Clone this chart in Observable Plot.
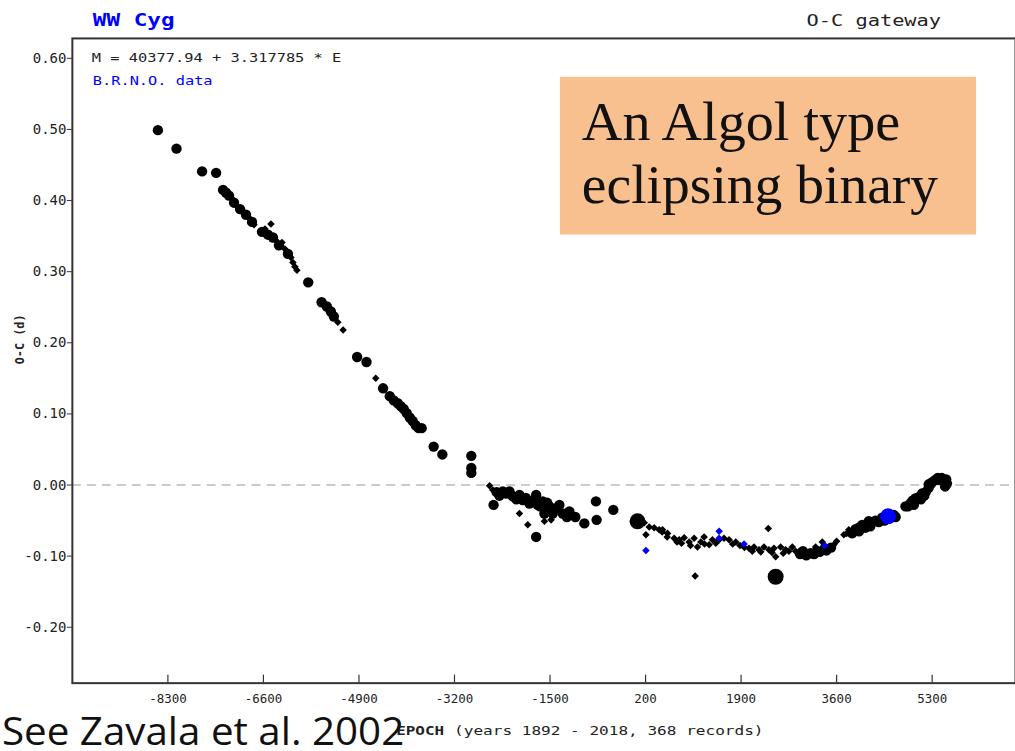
<!DOCTYPE html>
<html><head><meta charset="utf-8">
<script src="https://cdn.jsdelivr.net/npm/d3@7"></script>
<script src="https://cdn.jsdelivr.net/npm/@observablehq/plot@0.6"></script>
<style>
body{margin:0;background:#fff;}
#wrap{position:relative;width:1015px;height:751px;overflow:hidden;background:#fff;}
</style></head><body><div id="wrap"></div>
<script>
// Tick values
const xTicks = [-8300, -6600, -4900, -3200, -1500, 200, 1900, 3600, 5300];
const yTicks = [-0.2, -0.1, 0, 0.1, 0.2, 0.3, 0.4, 0.5, 0.6];

// Normal black circles: epoch, O-C
const circleEpoch = [-8478,-8147,-7691,-7442,-7318,-7265,-7212,-7123,-7016,-6910,-6803,-6626,-6519,-6430,-6324,-6164,-5803,-5565,-5471,-5400,-5347,-4933,-4766,-4471,-4352,-4281,-4210,-4157,-4104,-4050,-3997,-3944,-3891,-3837,-3784,-3571,-3416,-2901,-2901,-2901,
  -2505,-2450,-2400,-2340,-2280,-2221,-2163,-2100,-2044,-1985,-1930,-1866,-1800,-1747,-1719,-1680,-1630,-1600,-1571,-1550,-1511,-1452,-1400,-1333,-1274,-1200,-1156,-1050,-1747,-889,-683,-671,-374,
  2950,3000,3060,3137,3200,3250,3300,3380,3420,3500,
  3876,3936,3995,4000,4054,4113,4172,4200,4291,4350,4409,4450,4560,4617,4650,
  4825,4870,4912,4950,4974,5000,5060,5100,5119,5160,5184,5238,5238,5280,5300,5356,5400,5430,5470,5504,5550,5563,5530];
const circleOC = [0.499,0.473,0.441,0.439,0.415,0.411,0.407,0.397,0.388,0.380,0.370,0.356,0.352,0.348,0.337,0.325,0.285,0.257,0.251,0.244,0.237,0.180,0.173,0.136,0.125,0.119,0.115,0.111,0.107,0.101,0.095,0.090,0.084,0.080,0.080,0.054,0.043,0.041,0.024,0.017,
  -0.028,-0.010,-0.015,-0.009,-0.012,-0.009,-0.016,-0.020,-0.014,-0.021,-0.018,-0.026,-0.022,-0.014,-0.028,-0.030,-0.023,-0.040,-0.035,-0.025,-0.030,-0.040,-0.033,-0.028,-0.040,-0.045,-0.037,-0.045,-0.073,-0.054,-0.023,-0.049,-0.035,
  -0.097,-0.093,-0.099,-0.096,-0.097,-0.093,-0.094,-0.090,-0.092,-0.088,
  -0.068,-0.062,-0.060,-0.065,-0.056,-0.060,-0.051,-0.058,-0.050,-0.052,-0.046,-0.050,-0.046,-0.042,-0.045,
  -0.030,-0.030,-0.026,-0.022,-0.028,-0.019,-0.017,-0.020,-0.012,-0.015,-0.010,-0.004,0.001,0.002,0.004,0.007,0.010,0.007,0.010,0.006,0.008,0.002,-0.002];

// Large circles: epoch, O-C, colour (k = black, u = blue)
const bigEpoch = [57, 2515, 4516];
const bigOC = [-0.051, -0.129, -0.044];
const bigColor = ["k", "k", "u"];

// Diamonds: epoch, O-C, colour (k = black, u = blue)
const diamondEpoch = [-7158,-7070,-6963,-6857,-6768,-6572,-6466,-6377,-6270,-6217,-6111,-6075,-6040,-6004,-5276,-5182,-4601,-2576,-2518,-2429,-2044,-1896,-1600,-1481,-1126,-1038,176,266,354,443,496,585,207,502,591,709,760,798,840,887,976,1000,1064,1123,1183,1242,1250,1331,1390,1450,1509,1597,1686,1750,1805,1880,1960,2041,2100,2130,2219,2250,2308,2396,2450,2485,2515,2604,2650,2693,2750,2811,2870,2929,3225,3344,3462,3551,3600,2384,1082,3729,3780,3817,207,1509,1509,1953,3391];
const diamondOC = [0.403,0.393,0.383,0.376,0.366,0.360,0.367,0.344,0.341,0.332,0.320,0.313,0.307,0.302,0.229,0.218,0.150,-0.001,-0.007,-0.012,-0.040,-0.056,-0.051,-0.049,-0.042,-0.044,-0.053,-0.059,-0.060,-0.063,-0.066,-0.073,-0.070,-0.063,-0.068,-0.075,-0.080,-0.077,-0.082,-0.074,-0.080,-0.085,-0.075,-0.087,-0.080,-0.073,-0.083,-0.084,-0.077,-0.082,-0.077,-0.075,-0.077,-0.083,-0.080,-0.085,-0.088,-0.089,-0.093,-0.087,-0.091,-0.094,-0.087,-0.091,-0.095,-0.089,-0.101,-0.087,-0.096,-0.091,-0.093,-0.087,-0.093,-0.094,-0.087,-0.080,-0.089,-0.084,-0.079,-0.061,-0.128,-0.070,-0.068,-0.063,-0.092,-0.065,-0.075,-0.083,-0.085];
const diamondColor = diamondEpoch.map((_, i) => i >= diamondEpoch.length - 5 ? "u" : "k");

const palette = {k: "#000000", u: "#0000ff"};
const circles = circleEpoch.map((e, i) => ({epoch: e, oc: circleOC[i]}));
const bigs = bigEpoch.map((e, i) => ({epoch: e, oc: bigOC[i], color: palette[bigColor[i]]}));
const diamonds = diamondEpoch.map((e, i) => ({epoch: e, oc: diamondOC[i], color: palette[diamondColor[i]]}));

const chart = Plot.plot({
  width: 1017, height: 751,
  marginTop: 38, marginLeft: 72, marginRight: 0, marginBottom: 67,
  style: {fontFamily: "DejaVu Sans Mono", fontSize: "12px", color: "#222", background: "transparent"},
  x: {domain: [-10000, 6783], label: null},
  y: {domain: [-0.2786, 0.628], label: null},
  marks: [
    Plot.ruleY([0], {stroke: "#bbb", strokeWidth: 1.5, strokeDasharray: "9,6"}),
    Plot.axisY({ticks: yTicks, tickFormat: d => d.toFixed(2), tickSize: 5, tickPadding: 1, fontSize: 14, stroke: "#333", label: null}),
    Plot.axisX({ticks: xTicks, tickFormat: d => String(d), tickSize: 0, tickPadding: 11, fontSize: 12.5, label: null}),
    Plot.tickX(xTicks, {x: d => d, insetTop: 638, stroke: "#333", strokeWidth: 1.2}),
    Plot.dot(diamonds.filter(d => d.color === palette.k), {x: "epoch", y: "oc", r: 3.4, symbol: "diamond2", fill: "color"}),
    Plot.dot(circles, {x: "epoch", y: "oc", r: 5.2, fill: "#000"}),
    Plot.dot(diamonds.filter(d => d.color !== palette.k), {x: "epoch", y: "oc", r: 3.4, symbol: "diamond2", fill: "color"}),
    Plot.dot(bigs, {x: "epoch", y: "oc", r: 8, fill: "color"}),
    Plot.frame({stroke: "#333", strokeWidth: 2})
  ]
});
document.getElementById("wrap").appendChild(chart);

const svg = d3.select(chart);
function txt(x, y, s, o = {}) {
  const t = svg.append("text").attr("x", x).attr("y", y).text(s)
    .attr("font-family", o.family || "DejaVu Sans Mono")
    .attr("font-size", o.size || 13)
    .attr("font-weight", o.weight || "normal")
    .attr("fill", o.fill || "#222")
    .attr("text-anchor", o.anchor || "start");
  if (o.len) t.attr("textLength", o.len).attr("lengthAdjust", "spacingAndGlyphs");
  if (o.transform) t.attr("transform", o.transform);
  return t;
}
txt(93, 26, "WW Cyg", {weight: "bold", size: 17, fill: "#0000ff", len: 82});
txt(808, 26, "O-C gateway", {size: 16, len: 135});
txt(92, 62, "M = 40377.94 + 3.317785 * E", {size: 13, len: 250});
txt(93, 85, "B.R.N.O. data", {size: 13, fill: "#0000ff", len: 120});
txt(0, 0, "O-C (d)", {weight: "bold", size: 12, len: 50, anchor: "middle", transform: "translate(24,340) rotate(-90)"});
txt(397, 736, "EPOCH", {weight: "bold", size: 12, len: 48});
txt(455, 736, "(years 1892 - 2018, 368 records)", {size: 12, len: 310});
svg.append("rect").attr("x", 561).attr("y", 77).attr("width", 417).attr("height", 158).attr("fill", "#f8bf8f");
txt(583, 140, "An Algol type", {family: "Liberation Serif", size: 55, fill: "#111", len: 319});
txt(583, 203, "eclipsing binary", {family: "Liberation Serif", size: 55, fill: "#111", len: 357});
txt(2, 746, "See Zavala et al. 2002", {family: "Open Sans", size: 38, fill: "#111", len: 403});
</script></body></html>
